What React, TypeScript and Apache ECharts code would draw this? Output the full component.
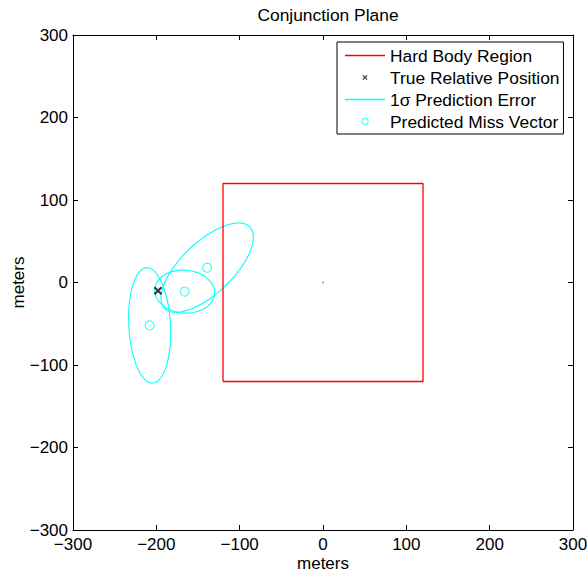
import React, { useEffect, useRef } from "react";
import * as echarts from "echarts";

// ---- data ----
const axisMin = -300;
const axisMax = 300;
const axisStep = 100;

const hardBodyX = [-120, 120, 120, -120, -120];
const hardBodyY = [-120, -120, 120, 120, -120];
const hardBodyCenter = [0, 0];

const truePosition = [-198, -10];

const missVectorX = [-208, -166, -139];
const missVectorY = [-52, -11, 18];

// 1-sigma error ellipses centred on the predicted miss vectors
const ellipseSemiMajor = [70, 36, 71];
const ellipseSemiMinor = [25, 26, 31];
const ellipseAngleDeg = [93, -5, 44];

const legendNames = [
  "Hard Body Region",
  "True Relative Position",
  "1σ Prediction Error",
  "Predicted Miss Vector",
];

const RED = "#ff0000";
const CYAN = "#00ffff";
const FONT = "'Liberation Sans', Arial, Helvetica, sans-serif";
const fmt = (v: number) => String(v).replace("-", "\u2212");

export default function App() {
  const ref = useRef<HTMLDivElement>(null);
  useEffect(() => {
    if (!ref.current) return;
    const chart = echarts.init(ref.current, undefined, { renderer: "svg" });

    const xAxisBase = {
      type: "value",
      min: axisMin,
      max: axisMax,
      interval: axisStep,
      splitLine: { show: false },
      axisLine: { show: true, onZero: false, lineStyle: { color: "#000", width: 1 } },
      axisTick: { show: true, inside: true, length: 5, lineStyle: { color: "#000" } },
    };

    const lineIcon = "path://M0,0H40V1.3H0Z";

    const option: any = {
      animation: false,
      backgroundColor: "#fff",
      textStyle: { fontFamily: FONT },
      title: {
        text: "Conjunction Plane",
        left: 323,
        top: 1,
        textAlign: "center",
        textStyle: { fontFamily: FONT, fontSize: 17.4, fontWeight: "normal", color: "#000" },
      },
      grid: {
        left: 73,
        right: 14,
        top: 35,
        bottom: 42,
        containLabel: false,
        outerBoundsMode: "none",
      },
      xAxis: [
        {
          ...xAxisBase,
          position: "bottom",
          name: "meters",
          nameLocation: "middle",
          nameGap: 25,
          nameMoveOverlap: false,
          nameTextStyle: { fontFamily: FONT, fontSize: 17, lineHeight: 16, color: "#000" },
          axisLabel: { color: "#000", fontSize: 17, fontFamily: FONT, margin: 6, formatter: fmt },
        },
        { ...xAxisBase, position: "top", axisLabel: { show: false } },
      ],
      yAxis: [
        {
          ...xAxisBase,
          position: "left",
          name: "meters",
          nameLocation: "middle",
          nameGap: 47,
          nameMoveOverlap: false,
          nameTextStyle: { fontFamily: FONT, fontSize: 17, lineHeight: 16, color: "#000" },
          axisLabel: { color: "#000", fontSize: 17, fontFamily: FONT, margin: 5, formatter: fmt },
        },
        { ...xAxisBase, position: "right", axisLabel: { show: false } },
      ],
      legend: {
        orient: "vertical",
        left: 337,
        top: 42,
        padding: [5, 4, 3, 8],
        itemWidth: 40,
        itemHeight: 14,
        itemGap: 4,
        borderColor: "#000",
        borderWidth: 1,
        borderRadius: 0,
        backgroundColor: "#fff",
        textStyle: { fontFamily: FONT, fontSize: 17.4, color: "#000" },
        data: [
          {
            name: legendNames[0],
            icon: lineIcon,
            itemStyle: { color: RED, borderWidth: 0 },
          },
          {
            name: legendNames[1],
            icon: "path://M0,0L0,0M20,20L20,20M7,7L13,13M13,7L7,13",
            itemStyle: { color: "none", borderColor: "#000", borderWidth: 1.2 },
          },
          {
            name: legendNames[2],
            icon: lineIcon,
            itemStyle: { color: CYAN, borderWidth: 0 },
          },
          {
            name: legendNames[3],
            icon: "path://M0,0L0,0M20,20L20,20M14.5,10A4.5,4.5 0 1 1 5.5,10A4.5,4.5 0 1 1 14.5,10Z",
            itemStyle: { color: "none", borderColor: CYAN, borderWidth: 1.1 },
          },
        ],
      },
      series: [
        {
          name: legendNames[0],
          type: "line",
          data: hardBodyX.map((x, i) => [x, hardBodyY[i]]),
          symbol: "none",
          lineStyle: { color: RED, width: 1.3 },
          itemStyle: { color: RED },
          z: 3,
        },
        {
          name: "centre",
          type: "scatter",
          data: [hardBodyCenter],
          symbol: "rect",
          symbolSize: 1.5,
          itemStyle: { color: RED },
          silent: true,
        },
        {
          name: legendNames[2],
          type: "custom",
          data: missVectorX.map((x, i) => [
            x,
            missVectorY[i],
            ellipseSemiMajor[i],
            ellipseSemiMinor[i],
            ellipseAngleDeg[i],
          ]),
          encode: { x: 0, y: 1 },
          itemStyle: { color: CYAN },
          renderItem: (params: any, api: any) => {
            const cx = api.value(0);
            const cy = api.value(1);
            const a = api.value(2);
            const b = api.value(3);
            const ang = (api.value(4) * Math.PI) / 180;
            const pts: number[][] = [];
            const n = 144;
            for (let k = 0; k <= n; k++) {
              const t = (k / n) * Math.PI * 2;
              const ex = a * Math.cos(t);
              const ey = b * Math.sin(t);
              const x = cx + ex * Math.cos(ang) - ey * Math.sin(ang);
              const y = cy + ex * Math.sin(ang) + ey * Math.cos(ang);
              pts.push(api.coord([x, y]));
            }
            return {
              type: "polyline",
              shape: { points: pts },
              style: { stroke: CYAN, fill: "none", lineWidth: 1.1 },
            };
          },
          z: 2,
        },
        {
          name: legendNames[3],
          type: "scatter",
          data: missVectorX.map((x, i) => [x, missVectorY[i]]),
          symbol: "circle",
          symbolSize: 9,
          itemStyle: { color: "none", borderColor: CYAN, borderWidth: 1.1 },
          z: 4,
        },
        {
          name: legendNames[1],
          type: "scatter",
          data: [truePosition],
          symbol: "path://M0,0L10,10M10,0L0,10",
          symbolSize: 7,
          itemStyle: { color: "none", borderColor: "#000", borderWidth: 2 },
          z: 5,
        },
      ],
    };
    chart.setOption(option);
    return () => chart.dispose();
  }, []);

  return <div ref={ref} style={{ width: 587, height: 572, position: "absolute", left: 0, top: 0 }} />;
}
